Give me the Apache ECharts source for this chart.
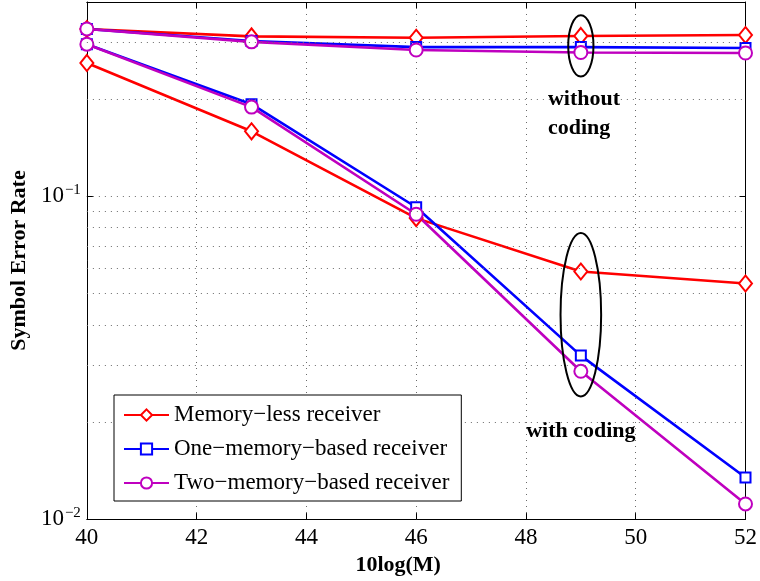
<!DOCTYPE html>
<html>
<head>
<meta charset="utf-8">
<style>
  html, body { margin: 0; padding: 0; background: #fff; }
  #chart { width: 760px; height: 581px; }
</style>
<script src="https://cdn.jsdelivr.net/npm/echarts@6/dist/echarts.min.js"></script>
</head>
<body>
<div id="chart"></div>
<script>
  // values
  const xValues = [40, 43, 46, 49, 52];
  const memlessCoded = [0.259, 0.159, 0.0856, 0.0585, 0.0537];
  const memlessUncoded = [0.330, 0.313, 0.310, 0.314, 0.316];
  const oneMemCoded = [0.296, 0.193, 0.0925, 0.0321, 0.01346];
  const oneMemUncoded = [0.330, 0.303, 0.290, 0.290, 0.288];
  const twoMemCoded = [0.296, 0.189, 0.088, 0.0287, 0.01114];
  const twoMemUncoded = [0.330, 0.301, 0.284, 0.279, 0.278];

  const seriesNames = ["Memory−less receiver", "One−memory−based receiver", "Two−memory−based receiver"];
  const minorGridValues = [0.02, 0.03, 0.04, 0.05, 0.06, 0.07, 0.08, 0.09, 0.2, 0.3];

  // ellipses: [x centre, half width in x units, y top, y bottom]
  const ellipseWithout = [49, 0.23, 0.364, 0.235];
  const ellipseWith = [49, 0.37, 0.077, 0.024];
  const labelWithout = [48.4, 0.2, 0.163];
  const labelWith = [49, 0.0187];

  const FONT = "Liberation Serif";
  const COLORS = { red: "#ff0000", blue: "#0000ff", purple: "#bf00bf" };
  const DOTTED = { color: "#6a6a6a", width: 1, type: [1, 5] };

  function pairs(ys) {
    return xValues.map((x, i) => [x, ys[i]]);
  }

  function lineSeries(name, ys, color, symbol, size) {
    return {
      name,
      type: "line",
      data: pairs(ys),
      symbol,
      symbolSize: size,
      showAllSymbol: true,
      lineStyle: { color, width: 2.6 },
      itemStyle: { color, borderColor: color, borderWidth: 2 },
      emphasis: { disabled: true },
      z: 3,
    };
  }

  function powerLabel(v) {
    const p = Math.log10(v);
    if (Math.abs(p - Math.round(p)) > 1e-6) return "";
    const exp = Math.round(p);
    return "{b|10}{s|" + (exp < 0 ? "−" : "") + Math.abs(exp) + "}";
  }

  const chart = echarts.init(document.getElementById("chart"));

  const yCommon = {
    type: "log",
    logBase: 10,
    min: 0.01,
    max: 0.4,
    axisLine: { show: true, lineStyle: { color: "#000", width: 1 } },
    axisTick: { show: true, inside: true, length: 6, lineStyle: { color: "#000" } },
  };

  chart.setOption({
    animation: false,
    backgroundColor: "#fff",
    grid: { left: 86, right: 12, top: 2, bottom: 59 },
    legend: {
      data: seriesNames,
      orient: "vertical",
      left: 114,
      top: 395,
      padding: [8, 12, 6, 9],
      itemWidth: 45,
      itemHeight: 14,
      itemGap: 10,
      borderColor: "#000",
      borderWidth: 1,
      borderRadius: 0,
      backgroundColor: "#fff",
      textStyle: { fontFamily: FONT, fontSize: 23, lineHeight: 24, color: "#000" },
      selectedMode: false,
      z: 10,
    },
    xAxis: [
      {
        type: "value",
        min: 40,
        max: 52,
        interval: 2,
        name: "10log(M)",
        nameLocation: "middle",
        nameGap: 20,
        nameTextStyle: { fontFamily: FONT, fontSize: 22, fontWeight: "bold", color: "#000", padding: [0, 36, 0, 0] },
        axisLine: { show: true, lineStyle: { color: "#000", width: 1 } },
        axisTick: { show: true, inside: true, length: 6, lineStyle: { color: "#000" } },
        axisLabel: { fontFamily: FONT, fontSize: 23, color: "#000", margin: 7 },
        splitLine: { show: true, lineStyle: DOTTED },
      },
      {
        type: "value",
        position: "top",
        min: 40,
        max: 52,
        interval: 2,
        axisLine: { show: true, lineStyle: { color: "#000", width: 1 } },
        axisTick: { show: true, inside: true, length: 6, lineStyle: { color: "#000" } },
        axisLabel: { show: false },
        splitLine: { show: false },
      },
    ],
    yAxis: [
      Object.assign({}, yCommon, {
        name: "Symbol Error Rate",
        nameLocation: "middle",
        nameGap: 54,
        nameTextStyle: { fontFamily: FONT, fontSize: 22, fontWeight: "bold", color: "#000" },
        axisLabel: {
          margin: 6,
          formatter: powerLabel,
          rich: {
            b: { fontFamily: FONT, fontSize: 23, color: "#000" },
            s: { fontFamily: FONT, fontSize: 15, color: "#000", verticalAlign: "bottom", padding: [0, 0, 12, 1] },
          },
        },
        splitLine: { show: true, lineStyle: DOTTED },
      }),
      Object.assign({}, yCommon, {
        position: "right",
        axisLabel: { show: false },
        splitLine: { show: false },
      }),
    ],
    series: [
      {
        type: "line",
        data: [],
        silent: true,
        markLine: {
          silent: true,
          symbol: "none",
          label: { show: false },
          lineStyle: DOTTED,
          data: minorGridValues.map((v) => ({ yAxis: v })),
        },
        z: 1,
      },
      lineSeries(seriesNames[0], memlessUncoded, COLORS.red, "emptyDiamond", [13, 16]),
      lineSeries(seriesNames[0], memlessCoded, COLORS.red, "emptyDiamond", [13, 16]),
      lineSeries(seriesNames[1], oneMemUncoded, COLORS.blue, "emptyRect", 10),
      lineSeries(seriesNames[1], oneMemCoded, COLORS.blue, "emptyRect", 10),
      lineSeries(seriesNames[2], twoMemUncoded, COLORS.purple, "emptyCircle", 13),
      lineSeries(seriesNames[2], twoMemCoded, COLORS.purple, "emptyCircle", 13),
    ],
  });

  function toPx(x, y) {
    return chart.convertToPixel({ xAxisIndex: 0, yAxisIndex: 0 }, [x, y]);
  }

  function ellipseShape(e) {
    const left = toPx(e[0] - e[1], e[2]);
    const right = toPx(e[0] + e[1], e[3]);
    return {
      cx: (left[0] + right[0]) / 2,
      cy: (left[1] + right[1]) / 2,
      rx: (right[0] - left[0]) / 2,
      ry: (right[1] - left[1]) / 2,
    };
  }

  const boldText = { fontFamily: FONT, fontSize: 22, fontWeight: "bold", fill: "#000" };
  const w1 = toPx(labelWithout[0], labelWithout[1]);
  const w2 = toPx(labelWithout[0], labelWithout[2]);
  const wc = toPx(labelWith[0], labelWith[1]);

  chart.setOption({
    graphic: [
      { type: "ellipse", shape: ellipseShape(ellipseWithout), style: { fill: "none", stroke: "#000", lineWidth: 2 }, z: 5 },
      { type: "ellipse", shape: ellipseShape(ellipseWith), style: { fill: "none", stroke: "#000", lineWidth: 2 }, z: 5 },
      { type: "text", x: w1[0], y: w1[1], style: Object.assign({ text: "without", align: "left", verticalAlign: "middle" }, boldText), z: 5 },
      { type: "text", x: w2[0], y: w2[1], style: Object.assign({ text: "coding", align: "left", verticalAlign: "middle" }, boldText), z: 5 },
      { type: "text", x: wc[0], y: wc[1], style: Object.assign({ text: "with coding", align: "center", verticalAlign: "middle" }, boldText), z: 5 },
    ],
  });
</script>
</body>
</html>
